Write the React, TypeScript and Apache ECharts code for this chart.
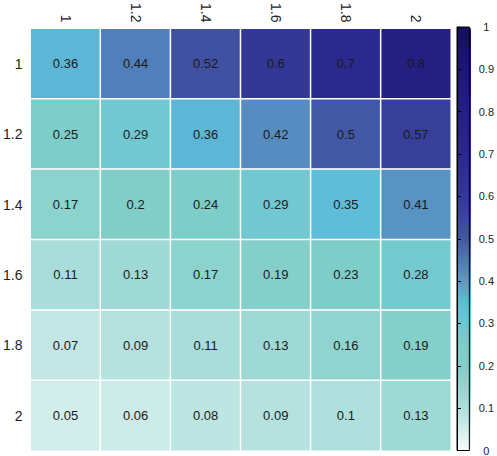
import React, { useEffect, useRef } from "react";
import * as echarts from "echarts";

const xCategories = ["1", "1.2", "1.4", "1.6", "1.8", "2"];
const yCategories = ["1", "1.2", "1.4", "1.6", "1.8", "2"];

// rows follow yCategories (top to bottom), columns follow xCategories
const row1 = [0.36, 0.44, 0.52, 0.6, 0.7, 0.8];
const row12 = [0.25, 0.29, 0.36, 0.42, 0.5, 0.57];
const row14 = [0.17, 0.2, 0.24, 0.29, 0.35, 0.41];
const row16 = [0.11, 0.13, 0.17, 0.19, 0.23, 0.28];
const row18 = [0.07, 0.09, 0.11, 0.13, 0.16, 0.19];
const row2 = [0.05, 0.06, 0.08, 0.09, 0.1, 0.13];
const rows = [row1, row12, row14, row16, row18, row2];

const colorStops = [
  "#f7fcfd", "#d3edeb", "#aedfdc", "#93d5d0", "#81cec9", "#7ccdc9",
  "#6ec7d2", "#5ebdd9", "#5a9ac7", "#4f78b6", "#4358a5", "#3a459c",
  "#333795", "#2f3090", "#2b298b", "#282486", "#251f81", "#211b7b",
  "#1c1774", "#16136a", "#10105a",
];

const FONT = "'Liberation Sans', Arial, sans-serif";

export default function App() {
  const ref = useRef<HTMLDivElement>(null);
  useEffect(() => {
    if (!ref.current) return;
    const chart = echarts.init(ref.current, null, { renderer: "svg" });
    const data: [number, number, number][] = [];
    rows.forEach((r, yi) => r.forEach((v, xi) => data.push([xi, yi, v])));
    chart.setOption({
      animation: false,
      backgroundColor: "#fff",
      textStyle: { fontFamily: FONT },
      grid: [
        { left: 26, top: 27, width: 425, height: 424 },
        {
          left: 457, top: 27, width: 14, height: 424, show: true,
          borderColor: "#000", borderWidth: 1, backgroundColor: "transparent", z: 10,
        },
      ],
      xAxis: [
        {
          type: "category", data: xCategories, gridIndex: 0, position: "top",
          axisLine: { show: false }, axisTick: { show: false }, splitLine: { show: false },
          axisLabel: { rotate: 90, fontSize: 14, color: "#222", margin: 6, fontFamily: FONT },
        },
        { type: "value", gridIndex: 1, show: false, min: 0, max: 1 },
      ],
      yAxis: [
        {
          type: "category", data: yCategories, gridIndex: 0, inverse: true,
          axisLine: { show: false }, axisTick: { show: false }, splitLine: { show: false },
          axisLabel: { fontSize: 14, color: "#222", margin: 8, fontFamily: FONT },
        },
        {
          type: "value", gridIndex: 1, position: "right", min: 0, max: 1, interval: 0.1, z: 10,
          axisLine: { show: true, lineStyle: { color: "#000", width: 1 } },
          axisTick: { show: true, length: 4, lineStyle: { color: "#000" } },
          splitLine: { show: false },
          axisLabel: { fontSize: 11, color: "#222", margin: 17, align: "center", fontFamily: FONT },
        },
      ],
      visualMap: {
        type: "continuous", min: 0, max: 1, seriesIndex: 0, calculable: false,
        orient: "vertical", left: 457, top: 27, itemWidth: 14, itemHeight: 424,
        padding: 0, inRange: { color: colorStops }, hoverLink: false,
      },
      series: [
        {
          type: "heatmap", xAxisIndex: 0, yAxisIndex: 0, data,
          label: { show: true, fontSize: 13, color: "#1a1a1a", fontFamily: FONT },
          itemStyle: { borderColor: "#fff", borderWidth: 1.5 },
        },
      ],
    });
    return () => chart.dispose();
  }, []);
  return (
    <div
      ref={ref}
      style={{ position: "fixed", left: 0, top: 0, width: 497, height: 456 }}
    />
  );
}
